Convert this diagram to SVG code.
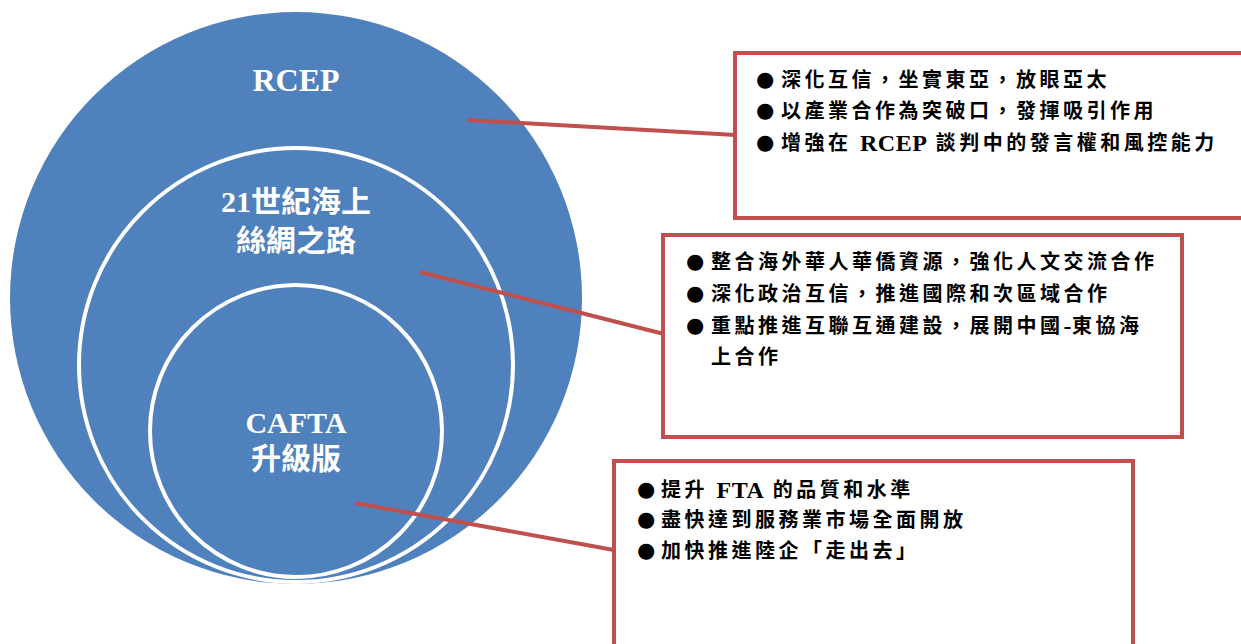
<svg xmlns="http://www.w3.org/2000/svg" width="1241" height="644" viewBox="0 0 1241 644">
<style>
.circ{fill:#4F81BD}
.ring{fill:#4F81BD;stroke:#FFFFFF;stroke-width:4}
.lbl{font-family:"Liberation Serif","Noto Sans CJK TC",serif;font-weight:bold;fill:#FFFFFF;text-anchor:middle;dominant-baseline:central}
.box{fill:#FFFFFF;stroke:#C0504D;stroke-width:4}
.conn{stroke:#C0504D;stroke-width:4;fill:none}
.t{font-family:"Liberation Serif","Noto Sans CJK TC",serif;font-weight:bold;font-size:20px;fill:#000000;letter-spacing:3.5px;dominant-baseline:central}
.l{letter-spacing:0.5px;font-size:24px}
.b{font-family:"DejaVu Sans",sans-serif;font-size:21px;fill:#000000;dominant-baseline:central}
</style>
<rect width="1241" height="644" fill="#FFFFFF"/>
<g id="rcep">
<circle class="circ" cx="296" cy="298" r="286"/>
<text class="lbl" x="296" y="80" font-size="32">RCEP</text>
</g>
<g id="silkroad">
<circle class="ring" cx="296" cy="365" r="217"/>
<text class="lbl" x="296" y="201" font-size="30">21世紀海上</text>
<text class="lbl" x="296" y="240" font-size="30">絲綢之路</text>
</g>
<g id="cafta">
<circle class="ring" cx="296" cy="431" r="146"/>
<text class="lbl" x="296" y="422" font-size="30">CAFTA</text>
<text class="lbl" x="296" y="458" font-size="30">升級版</text>
</g>
<g id="connectors">
<line class="conn" x1="467" y1="120" x2="736" y2="135"/>
<line class="conn" x1="420" y1="272" x2="664" y2="334"/>
<line class="conn" x1="355" y1="503" x2="614" y2="550"/>
</g>
<g id="box1">
<rect class="box" x="735" y="53" width="520" height="165"/>
<text class="b" x="756" y="79">●</text>
<text class="t" x="781" y="80">深化互信，坐實東亞，放眼亞太</text>
<text class="b" x="756" y="110">●</text>
<text class="t" x="781" y="111">以產業合作為突破口，發揮吸引作用</text>
<text class="b" x="756" y="142">●</text>
<text class="t" x="781" y="143">增強在 <tspan class="l">RCEP</tspan> 談判中的發言權和風控能力</text>
</g>
<g id="box2">
<rect class="box" x="663" y="235" width="519" height="202"/>
<text class="b" x="686" y="261">●</text>
<text class="t" x="711" y="262">整合海外華人華僑資源，強化人文交流合作</text>
<text class="b" x="686" y="293">●</text>
<text class="t" x="711" y="294">深化政治互信，推進國際和次區域合作</text>
<text class="b" x="686" y="325">●</text>
<text class="t" x="711" y="326">重點推進互聯互通建設，展開中國<tspan class="l">-</tspan>東協海</text>
<text class="t" x="711" y="357">上合作</text>
</g>
<g id="box3">
<rect class="box" x="614" y="461" width="519" height="200"/>
<text class="b" x="637" y="489">●</text>
<text class="t" x="661" y="490">提升 <tspan class="l">FTA</tspan> 的品質和水準</text>
<text class="b" x="637" y="519">●</text>
<text class="t" x="661" y="520">盡快達到服務業市場全面開放</text>
<text class="b" x="637" y="550">●</text>
<text class="t" x="661" y="551">加快推進陸企「走出去」</text>
</g>
</svg>
